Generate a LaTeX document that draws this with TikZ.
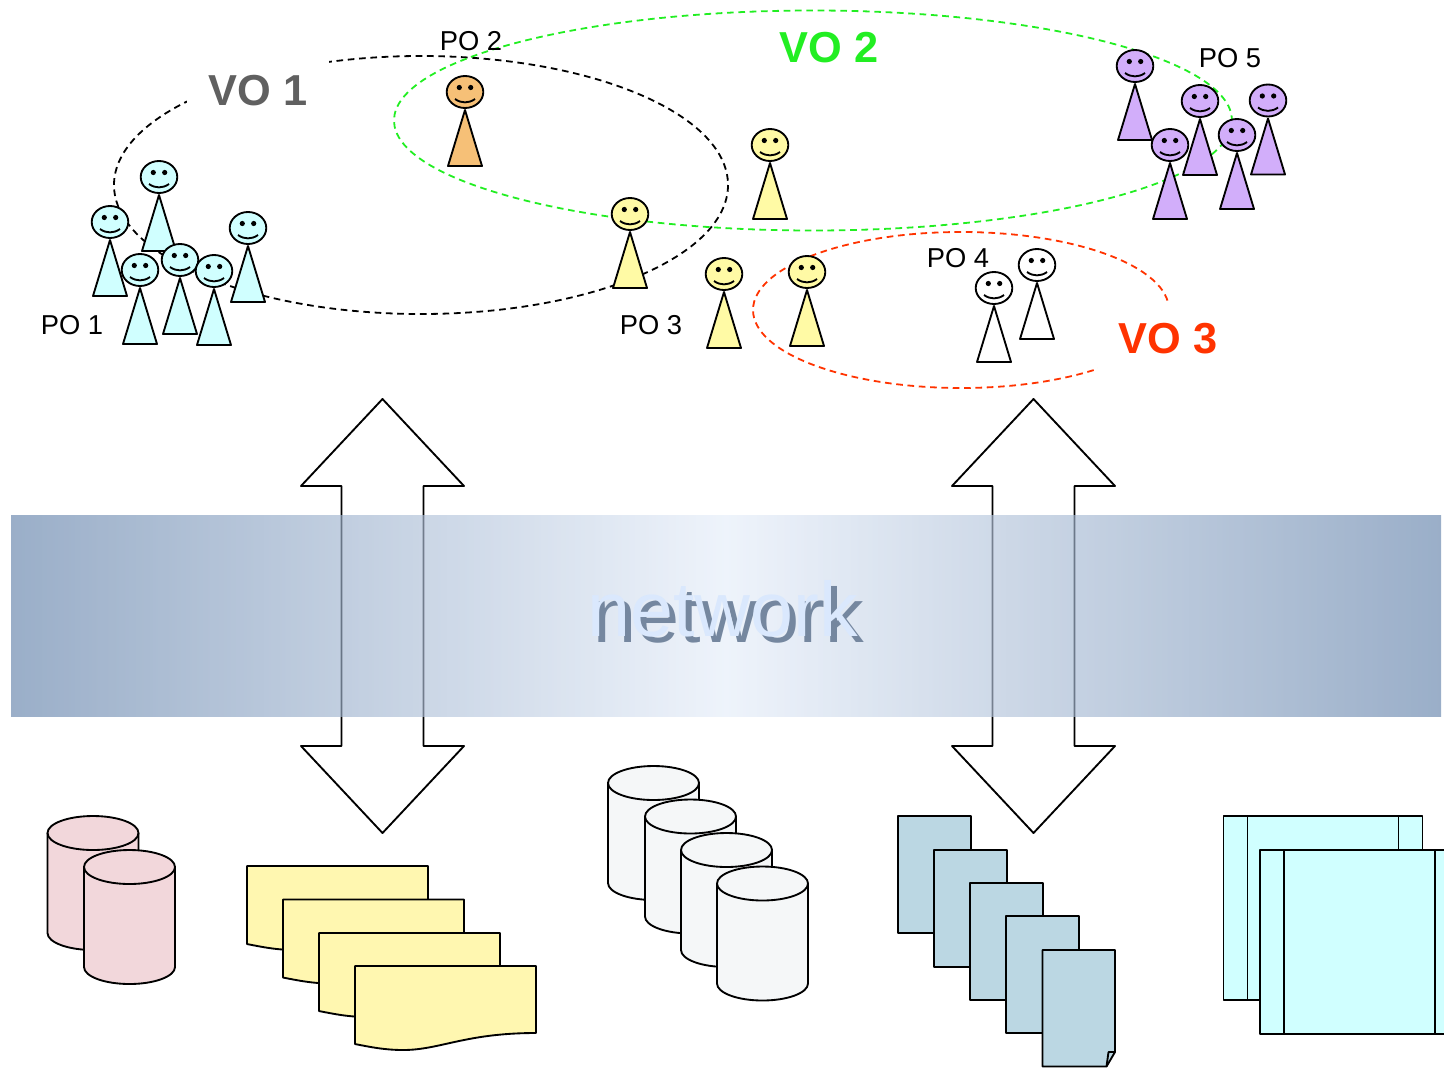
\documentclass[tikz,border=0pt]{standalone}
\usepackage{fontspec}
\setmainfont{Liberation Sans}
\usetikzlibrary{shadings}

\definecolor{bandedge}{RGB}{100,131,171}
\definecolor{bandmid}{RGB}{229,237,249}
\definecolor{greenvo}{RGB}{34,238,34}
\definecolor{redvo}{RGB}{255,51,0}
\definecolor{greyvo}{RGB}{96,96,96}
\definecolor{popcyan}{RGB}{208,255,255}
\definecolor{poporange}{RGB}{246,192,119}
\definecolor{popyellow}{RGB}{255,250,165}
\definecolor{poppurple}{RGB}{210,174,250}
\definecolor{dbpink}{RGB}{242,215,219}
\definecolor{dbgrey}{RGB}{245,247,248}
\definecolor{docyellow}{RGB}{255,247,176}
\definecolor{pageblue}{RGB}{187,215,227}

\tikzset{
  outline/.style={draw=black,line width=1.4pt,line join=round},
  volabel/.style={font=\bfseries\fontsize{32.5}{36}\selectfont,inner sep=0pt},
  polabel/.style={font=\fontsize{20.5}{24}\selectfont,inner sep=0pt},
  netlabel/.style={font=\fontsize{58}{64}\selectfont,inner sep=0pt},
  voring/.style={line width=1.35pt,dash pattern=on 5pt off 3.5pt},
}

% head and body, (#1,#2) is the middle of the head
\newcommand{\poperson}[3]{
\begin{scope}[shift={(#1,#2)}]
\draw [outline,fill=#3] (0,18) -- (17,74) -- (-17,74) -- cycle;
\draw [outline,fill=#3] (0,0) ellipse [x radius=18.3,y radius=16];
\fill (-5.7,-4.5) circle [radius=2.6];
\fill (5.7,-4.5) circle [radius=2.6];
\draw [line width=1.4pt] (-10,7) .. controls (-4,11.5) and (4,11.5) .. (10,7);
\end{scope}
}
% (#1,#2) is the upper left corner
\newcommand{\dbstack}[3]{
\begin{scope}[shift={(#1,#2)}]
\draw [outline,fill=#3] (0,17) -- (0,117) arc [start angle=180,end angle=0,x radius=45.5,y radius=17] -- (91,17) arc [start angle=0,end angle=-180,x radius=45.5,y radius=17] -- cycle;
\draw [outline] (0,17) arc [start angle=180,end angle=0,x radius=45.5,y radius=17];
\end{scope}
}
\newcommand{\docsheet}[2]{
\begin{scope}[shift={(#1,#2)}]
\draw [outline,fill=docyellow] (0,0) -- (181,0) -- (181,67) .. controls (110,67) and (85,84) .. (48,84) .. controls (30,84) and (15,81) .. (0,78) -- cycle;
\end{scope}
}
\newcommand{\pagesheet}[2]{\draw [outline,fill=pageblue] (#1,#2) rectangle +(73,117);}
\newcommand{\procsheet}[2]{
\begin{scope}[shift={(#1,#2)}]
\draw [outline,fill=popcyan] (0,0) rectangle (199,184);
\draw [outline] (24,0) -- (24,184);
\draw [outline] (175,0) -- (175,184);
\end{scope}
}
\newcommand{\netarrow}[1]{
\begin{scope}[shift={(#1,0)}]
\draw [outline,fill=white] (0,399) -- (81.5,486) -- (41,486) -- (41,746) -- (81.5,746) -- (0,833) -- (-81.5,746) -- (-41,746) -- (-41,486) -- (-81.5,486) -- cycle;
\end{scope}
}

\begin{document}
\begin{tikzpicture}[x=0.75pt,y=0.75pt,yscale=-1,xscale=1]
\useasboundingbox (0,0) rectangle (1444,1067);
\clip (0,0) rectangle (1444,1067);

\draw [voring,black] (421,185) ellipse [x radius=307,y radius=129];
\draw [voring,greenvo] (813,120.5) ellipse [x radius=419,y radius=110];
\draw [voring,redvo] (961,310) ellipse [x radius=208,y radius=78];

\node (vo1) [volabel,fill=white,text=greyvo,minimum width=106pt,minimum height=46.5pt] at (258,91) {VO 1};
\node (vo2) [volabel,text=greenvo] at (829,48) {VO 2};
\node (vo3) [volabel,fill=white,text=redvo,minimum width=105pt,minimum height=54pt] at (1168,339) {VO 3};

\poperson{159}{177}{popcyan}
\poperson{110}{222}{popcyan}
\poperson{140}{270}{popcyan}
\poperson{248}{228}{popcyan}
\poperson{180}{260}{popcyan}
\poperson{214}{271}{popcyan}

\poperson{465}{92}{poporange}

\poperson{630}{214}{popyellow}
\poperson{770}{145}{popyellow}
\poperson{724}{274}{popyellow}
\poperson{807}{272}{popyellow}

\poperson{994}{288}{white}
\poperson{1037}{265}{white}

\poperson{1135}{66}{poppurple}
\poperson{1200}{101}{poppurple}
\poperson{1170}{145}{poppurple}
\poperson{1268}{100.5}{poppurple}
\poperson{1237}{135}{poppurple}

\node (po1) [polabel] at (72,325) {PO 1};
\node (po2) [polabel] at (471,41) {PO 2};
\node (po3) [polabel] at (651,325) {PO 3};
\node (po4) [polabel] at (958,258) {PO 4};
\node (po5) [polabel] at (1230,58) {PO 5};

\netarrow{382.5}
\netarrow{1033.5}

\path [fill opacity=0.65,left color=bandedge,right color=bandedge,middle color=bandmid] (11,515) rectangle (1441,716.5);
\node (netshadow) [netlabel,text={rgb,255:red,117;green,135;blue,159}] at (729,615) {network};
\node (net) [netlabel,text={rgb,255:red,218;green,232;blue,253}] at (722.5,609) {network};

\dbstack{47.5}{816}{dbpink}
\dbstack{84}{850}{dbpink}

\docsheet{247}{866}
\docsheet{283}{899.5}
\docsheet{319}{933}
\docsheet{355}{966}

\dbstack{608}{766}{dbgrey}
\dbstack{645}{799.5}{dbgrey}
\dbstack{681}{833}{dbgrey}
\dbstack{717}{866.5}{dbgrey}

\pagesheet{898}{816}
\pagesheet{934}{850}
\pagesheet{970}{883}
\pagesheet{1006}{916}
\draw [outline,fill=pageblue] (1042.5,950) -- (1115,950) -- (1115,1052) -- (1106.5,1066.5) -- (1042.5,1066.5) -- cycle;
\draw [outline] (1106.5,1066.5) -- (1108.5,1052) -- (1115,1052);

\procsheet{1223.5}{816}
\procsheet{1260}{850}

\end{tikzpicture}
\end{document}
